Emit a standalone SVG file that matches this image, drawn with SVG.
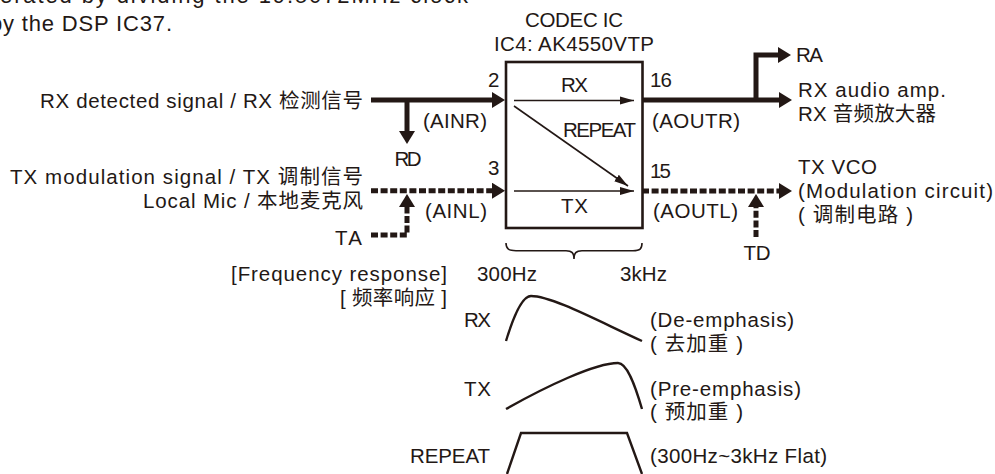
<svg xmlns="http://www.w3.org/2000/svg" width="995" height="474" viewBox="0 0 995 474">
<defs>
<marker id="big" markerUnits="userSpaceOnUse" markerWidth="14" markerHeight="16" refX="3" refY="8" orient="auto"><path d="M0 0L13 8L0 16Z" fill="#231815"/></marker>
<marker id="small" markerUnits="userSpaceOnUse" markerWidth="14" markerHeight="10" refX="14" refY="5" orient="auto"><path d="M0 1L14 5L0 9Z" fill="#231815"/></marker>
</defs>
<style>
text{font-family:"Liberation Sans","Noto Sans CJK SC",sans-serif;font-size:20.5px;fill:#231815}
.e{text-anchor:end}.m{text-anchor:middle}
.t{fill:none;stroke:#231815;stroke-width:5}
.d{fill:none;stroke:#231815;stroke-width:5;stroke-dasharray:7 2.600}
.n{fill:none;stroke:#231815;stroke-width:1.6}
.c{fill:none;stroke:#231815;stroke-width:2.400}
.i{font-size:22px}
</style>
<rect width="995" height="474" fill="#fff"/>
<g id="intro"><text class="i" x="0" y="3" textLength="468">erated by dividing the 19.5072MHz clock</text><text class="i" x="-10" y="31" textLength="182">by the DSP IC37.</text></g>
<g id="connectors">
<path class="t" d="M371 100H495" marker-end="url(#big)"/>
<path class="t" d="M407 100V134" marker-end="url(#big)"/>
<path class="d" d="M371 190.700H495" marker-end="url(#big)"/>
<path class="d" d="M371 235H407V204" marker-end="url(#big)"/>
<path class="t" d="M642 100H782" marker-end="url(#big)"/>
<path class="t" d="M756 100V55H781" marker-end="url(#big)"/>
<path class="d" d="M642 191H782" marker-end="url(#big)"/>
<path class="d" d="M756 237V204" marker-end="url(#big)"/>
</g>
<g id="codec">
<rect x="506" y="62" width="136.500" height="166" fill="none" stroke="#231815" stroke-width="2.600"/>
<text class="m" x="574" y="27" textLength="98">CODEC IC</text><text class="m" x="574" y="51" textLength="160">IC4: AK4550VTP</text>
<path class="n" d="M514 100.500H634" marker-end="url(#small)"/>
<path class="n" d="M514 106L628 186" marker-end="url(#small)"/>
<path class="n" d="M514 191H634" marker-end="url(#small)"/>
<text class="m" x="574.500" y="92" textLength="27">RX</text><text class="m" x="599.500" y="137" textLength="73">REPEAT</text><text class="m" x="574.500" y="213" textLength="27">TX</text>
</g>
<g id="labels-left">
<text class="e" x="363" y="108" textLength="323">RX detected signal / RX 检测信号</text>
<text class="e" x="363" y="184" textLength="353">TX modulation signal / TX 调制信号</text>
<text class="e" x="363" y="208" textLength="220">Local Mic / 本地麦克风</text>
<text class="e" x="362" y="245" textLength="27">TA</text>
<text class="m" x="408" y="166" textLength="27">RD</text>
<text class="m" x="455" y="128" textLength="64">(AINR)</text><text class="m" x="456" y="218" textLength="62">(AINL)</text>
<text x="488" y="87">2</text><text x="488" y="175">3</text>
</g>
<g id="labels-right">
<text x="650" y="87" textLength="22">16</text><text x="650" y="178" textLength="21">15</text>
<text class="m" x="696" y="128" textLength="88">(AOUTR)</text><text class="m" x="695.500" y="218" textLength="85">(AOUTL)</text>
<text x="796" y="62" textLength="27">RA</text>
<text x="798" y="97" textLength="148">RX audio amp.</text><text x="798" y="121" textLength="138">RX 音频放大器</text>
<text x="798" y="174" textLength="79">TX VCO</text><text x="798" y="198" textLength="195">(Modulation circuit)</text><text x="798" y="222" textLength="115">( 调制电路 )</text>
<text class="m" x="757" y="260" textLength="27">TD</text>
</g>
<g id="response">
<path class="c" style="stroke-width:1.600" d="M506 243C506 249 509 250.700 516 250.700H566C572 250.700 574 253 574 259C574 253 576 250.700 582 250.700H633C640 250.700 642 249 642 243"/>
<text class="e" x="447" y="281" textLength="216">[Frequency response]</text><text class="e" x="447" y="305" textLength="107">[ 频率响应 ]</text>
<text x="477" y="281" textLength="60">300Hz</text><text x="620" y="281" textLength="47">3kHz</text>
<text x="464" y="327" textLength="27">RX</text>
<path class="c" d="M506 341C513 318 522 296 531 296C552 296 600 322 642 341"/>
<text x="650" y="327" textLength="144">(De-emphasis)</text><text x="650" y="351" textLength="93">( 去加重 )</text>
<text x="464" y="396" textLength="27">TX</text>
<path class="c" d="M506 409C545 387 595 363 618 363C627 363 635 385 642 409"/>
<text x="650" y="396" textLength="151">(Pre-emphasis)</text><text x="650" y="419" textLength="93">( 预加重 )</text>
<text x="410" y="463" textLength="80">REPEAT</text>
<path class="c" d="M507 474L521 433H627L642 474"/>
<text x="650" y="463" textLength="177">(300Hz~3kHz Flat)</text>
</g>
</svg>
